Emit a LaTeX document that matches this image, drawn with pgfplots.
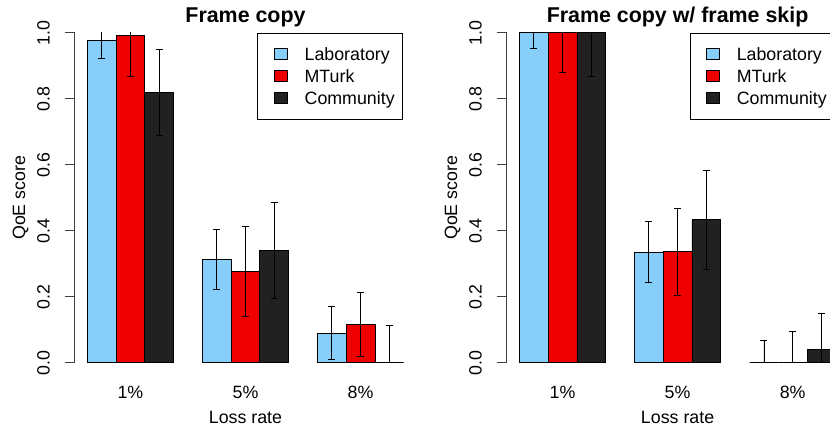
\documentclass[border=0pt]{standalone}
\usepackage{pgfplots}
\pgfplotsset{compat=1.18}
\usepackage{pgfplotstable}
\usepackage{fontspec}
\setmainfont{Liberation Sans}
\definecolor{labc}{RGB}{135,206,250}
\definecolor{mtc}{RGB}{238,0,0}
\definecolor{comc}{RGB}{33,33,33}

\pgfplotstableread{
x y e
1.5 0.976 0.054
5.5 0.313 0.092
9.5 0.090 0.081
}\Llab
\pgfplotstableread{
x y e
2.5 0.991 0.122
6.5 0.277 0.137
10.5 0.116 0.098
}\Lmt
\pgfplotstableread{
x y e
3.5 0.819 0.130
7.5 0.340 0.145
11.5 0.000 0.113
}\Lcom
\pgfplotstableread{
x y e
1.5 1.000 0.048
5.5 0.335 0.092
9.5 0.000 0.068
}\Rlab
\pgfplotstableread{
x y e
2.5 1.000 0.120
6.5 0.336 0.133
10.5 0.000 0.094
}\Rmt
\pgfplotstableread{
x y e
3.5 1.000 0.133
7.5 0.433 0.151
11.5 0.040 0.109
}\Rcom

\newcommand{\mainfs}{\fontsize{17.8}{20}\selectfont}
\pgfplotsset{
 legimg/.style={draw=black, line width=0.8pt,
   legend image code/.code={\path (0pt,0pt); \draw[##1] (8pt,-5.75pt) rectangle (21.3pt,5.75pt);}},
 barsty/.style={ybar, bar width=1, bar shift=0pt, draw=black, line width=0.8pt, forget plot,
   /pgfplots/error bars/y dir=both, /pgfplots/error bars/y explicit,
   /pgfplots/error bars/error bar style={black, line width=0.8pt},
   /pgfplots/error bars/error mark options={black, line width=0.8pt, mark size=3.5pt, rotate=90}},
 qoe/.style={
  scale only axis, width=341.8pt, height=330pt, anchor=south west,
  xmin=0.56, xmax=12.44, ymin=0, ymax=1,
  axis lines=left, axis line style={-, black!75, line width=0.8pt},
  x axis line style={draw=none},
  xtick={2.5,6.5,10.5}, xticklabels={1\%,5\%,8\%},
  xtick style={draw=none},
  ytick={0,0.2,0.4,0.6,0.8,1}, yticklabels={0.0,0.2,0.4,0.6,0.8,1.0},
  tick align=outside, major tick length=10pt,
  ytick style={black!75, line width=0.8pt},
  yticklabel shift=14.7pt,
  yticklabel style={rotate=90, anchor=south, inner sep=0pt, font=\mainfs},
  xticklabel style={anchor=base, inner sep=0pt, yshift=-25.6pt, font=\mainfs},
  ylabel={QoE score}, xlabel={Loss rate},
  ylabel style={at={(axis description cs:-0.1346,0.5)}, anchor=south, inner sep=0pt, font=\mainfs},
  xlabel style={at={(axis description cs:0.5,0)}, anchor=base, yshift=-60.6pt, inner sep=0pt, font=\mainfs},
  title style={font=\fontsize{21.4}{24}\selectfont\bfseries, at={(axis description cs:0.5,1)}, anchor=base, yshift=4pt, inner sep=0pt},
  clip=true,
  legend cell align=left,
  legend style={at={(axis description cs:0.961,1)}, anchor=north east, draw=black, line width=0.8pt,
    font=\mainfs, inner xsep=8pt, inner ysep=14.5pt, row sep=9pt,
    nodes={inner sep=0pt, text height=13pt, text depth=0pt},
    /tikz/every odd column/.append style={column sep=16.7pt}},
 }
}

\begin{document}
\begin{tikzpicture}
\useasboundingbox (0,0) rectangle (830pt,429pt);
\clip (0,0) rectangle (830pt,429pt);
\begin{axis}[qoe, at={(74.6pt,66.3pt)}, title={Frame copy}]
\addplot[fill=labc, barsty] table[x=x,y=y,y error=e]{\Llab};
\addplot[fill=mtc, barsty] table[x=x,y=y,y error=e]{\Lmt};
\addplot[fill=comc, barsty] table[x=x,y=y,y error=e]{\Lcom};
\addlegendimage{legimg, fill=labc}\addlegendentry{Laboratory}
\addlegendimage{legimg, fill=mtc}\addlegendentry{MTurk}
\addlegendimage{legimg, fill=comc}\addlegendentry{Community}
\end{axis}
\begin{axis}[qoe, at={(506.7pt,66.3pt)}, title={Frame copy w/ frame skip}]
\addplot[fill=labc, barsty] table[x=x,y=y,y error=e]{\Rlab};
\addplot[fill=mtc, barsty] table[x=x,y=y,y error=e]{\Rmt};
\addplot[fill=comc, barsty] table[x=x,y=y,y error=e]{\Rcom};
\addlegendimage{legimg, fill=labc}\addlegendentry{Laboratory}
\addlegendimage{legimg, fill=mtc}\addlegendentry{MTurk}
\addlegendimage{legimg, fill=comc}\addlegendentry{Community}
\end{axis}
\end{tikzpicture}
\end{document}
